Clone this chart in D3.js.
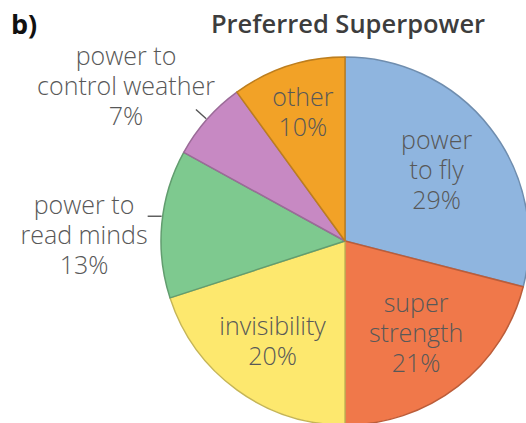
<!DOCTYPE html>
<html>
<head>
<meta charset="utf-8">
<script src="https://cdn.jsdelivr.net/npm/d3@7"></script>
<style>
  html, body { margin: 0; padding: 0; background: #fff; }
  svg { display: block; }
  text { font-family: "Open Sans", "Noto Sans", sans-serif; }
</style>
</head>
<body>
<svg id="chart" width="526" height="423"></svg>
<script>
// Survey results, clockwise from 12 o'clock
const categories = ["power to fly", "super strength", "invisibility", "power to read minds", "power to control weather", "other"];
const percents   = [29, 21, 20, 13, 7, 10];
const colors     = ["#8fb5df", "#f0784a", "#fde86e", "#7ec98f", "#c789c3", "#f2a227"];

// label text lines per slice (the last line is the value)
const labelLines = [
  ["power", "to fly"],
  ["super", "strength"],
  ["invisibility"],
  ["power to", "read minds"],
  ["power to", "control weather"],
  ["other"]
];

const W = 526, H = 423;
const cx = 345, cy = 241, R = 184;
const lineH = 30;

const svg = d3.select("#chart");

// heading
svg.append("text")
  .attr("x", 11).attr("y", 34)
  .attr("font-size", 27).attr("font-weight", 700)
  .attr("fill", "#111")
  .text("b)");
svg.append("text")
  .attr("x", 348).attr("y", 33)
  .attr("text-anchor", "middle")
  .attr("font-size", 25.5).attr("font-weight", 600)
  .attr("fill", "#3d3d3d")
  .text("Preferred Superpower");

const pie = d3.pie().sort(null).value(d => d)(percents);
const arc = d3.arc().innerRadius(0).outerRadius(R);

const g = svg.append("g").attr("transform", `translate(${cx},${cy})`);

g.selectAll("path.slice")
  .data(pie)
  .join("path")
  .attr("class", "slice")
  .attr("d", arc)
  .attr("fill", (d, i) => colors[i])
  .attr("stroke", (d, i) => d3.color(colors[i]).darker(0.7))
  .attr("stroke-width", 1.5)
  .attr("stroke-linejoin", "round");

// label placement: inside labels sit along the slice's mid-angle at a fraction of R;
// the two thin slices get their labels outside with short leaders
const polar = (a, r) => [r * Math.sin(a), -r * Math.cos(a)];
const midA = d => (d.startAngle + d.endAngle) / 2;
const labelPlace = [
  { kind: "in",  rf: 0.63 },
  { kind: "in",  rf: 0.63 },
  { kind: "in",  rf: 0.67 },
  { kind: "out", at: [-261, -6], leaderAngleShift: 0.04, leader: "h" },
  { kind: "out", at: [-219, -155], leaderAngleShift: 0, leader: "r" },
  { kind: "in",  rf: 0.74 }
];

pie.forEach((d, i) => {
  const p = labelPlace[i];
  const a = midA(d);
  const center = p.kind === "in" ? polar(a, R * p.rf) : p.at;
  const lines = labelLines[i].concat([percents[i] + "%"]);
  const top = center[1] - (lines.length - 1) * lineH / 2;
  const t = g.append("text")
    .attr("text-anchor", "middle")
    .attr("font-size", 25)
    .attr("font-weight", 300)
    .attr("fill", "#585858");
  lines.forEach((s, k) => {
    t.append("tspan")
      .attr("x", center[0])
      .attr("y", top + k * lineH)
      .attr("dy", "0.36em")
      .text(s);
  });

  if (p.kind === "out") {
    const la = a + p.leaderAngleShift;
    const rim = polar(la, R + 1);
    let end;
    if (p.leader === "r") end = polar(la, R * 1.08);
    else end = [rim[0] - 14, rim[1]];
    g.append("line")
      .attr("x1", rim[0]).attr("y1", rim[1])
      .attr("x2", end[0]).attr("y2", end[1])
      .attr("stroke", "#555").attr("stroke-width", 1.4);
  }
});
</script>
</body>
</html>
